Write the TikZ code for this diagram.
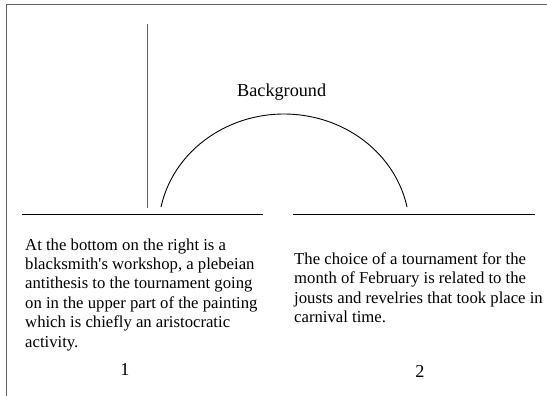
\documentclass[tikz,border=0pt]{standalone}
\usepackage{fontspec}
\setmainfont{Liberation Serif}
\begin{document}
\begin{tikzpicture}[x=1pt,y=-1pt,
  frame/.style={draw=black!62, line width=1.5pt},
  thinline/.style={draw=black, line width=0.9pt},
  txt/.style={inner sep=0pt, font=\fontsize{16.7}{19.4}\selectfont, align=left},
  lbl/.style={inner sep=0pt, font=\fontsize{18.2}{19.4}\selectfont}]
\useasboundingbox (0,0) rectangle (547,396);
% frame
\coordinate (fb) at (6.7,396);
\coordinate (fc) at (6.7,4.7);
\coordinate (fr) at (547,4.7);
\draw[frame] (fb) -- (fc) -- (fr);
% vertical stick
\coordinate (vt) at (147.5,24.5);
\coordinate (vb) at (147.5,208);
\draw[frame] (vt) -- (vb);
% ground lines
\coordinate (l1) at (21.7,214);
\coordinate (l2) at (263,214);
\coordinate (r1) at (293.3,214);
\coordinate (r2) at (535,214);
\draw[thinline] (l1) -- (l2);
\draw[thinline] (r1) -- (r2);
% arc
\coordinate (a0) at (161,207.1);
\draw[thinline] (a0) arc[start angle=168.6, end angle=11.4, x radius=125.5pt, y radius=116pt];
% labels
\node[lbl, anchor=base] (bg) at (281.7,96.7) {Background};
\node[txt, anchor=base west] (t1) at (25,347) {At the bottom on the right is a\\blacksmith\textquotesingle s workshop, a plebeian\\antithesis to the tournament going\\on in the upper part of the painting\\which is chiefly an aristocratic\\activity.};
\node[txt, anchor=base west] (t2) at (294,322.5) {The choice of a tournament for the\\month of February is related to the\\jousts and revelries that took place in\\carnival time.};
\node[lbl, anchor=base] (n1) at (125,375) {1};
\node[lbl, anchor=base] (n2) at (420,377) {2};
\end{tikzpicture}
\end{document}
